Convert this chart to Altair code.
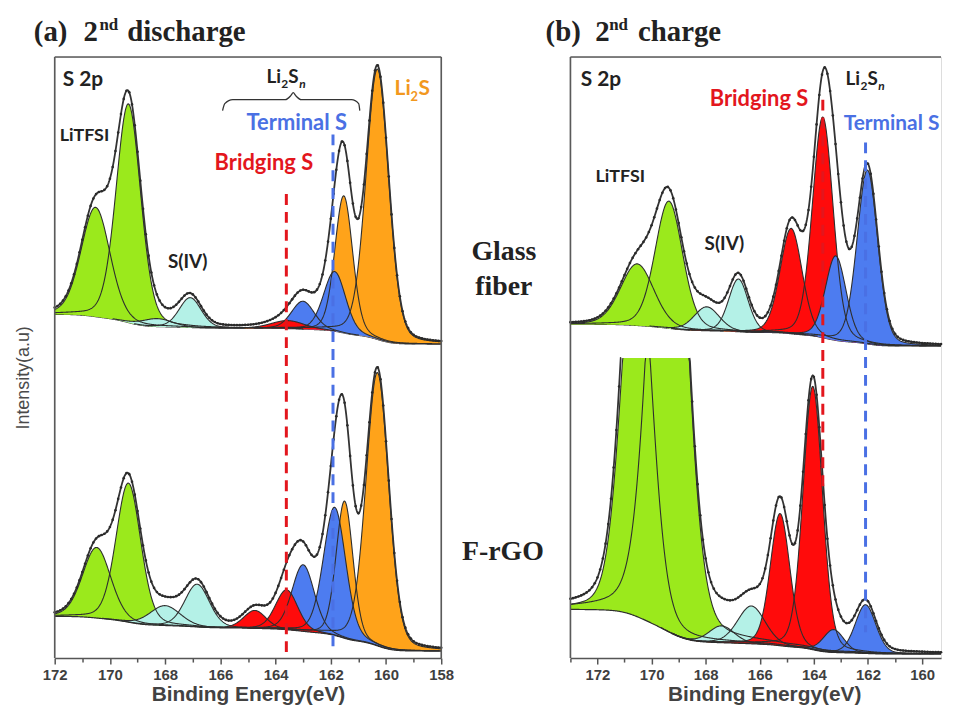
import numpy as np
import pandas as pd
import altair as alt

# ---------------- values ----------------
COL = {"LiTFSI": "#9BE91C", "S(IV)": "#B4F1E7", "Bridging": "#FF0B0B",
       "Terminal": "#4D7CF0", "Li2S": "#FFA31A"}
TXT_RED, TXT_BLUE, TXT_ORANGE = "#E3161D", "#4A70E4", "#F2981E"
OUTLINE = "#2E2E2E"
SANS, SERIF, AXFONT = "Lato", "Liberation Serif", "Liberation Sans"

# ---- (a) 2nd discharge : binding energy 172 -> 158 eV ----
A_DOMAIN = [172, 158]
A_TICKS = list(range(158, 173))
# Glass fiber (upper trace): peak centre (eV), height (a.u.), FWHM (eV)
A_GF_KIND = ["LiTFSI", "LiTFSI", "S(IV)", "S(IV)", "Li2S", "Li2S", "Terminal", "Terminal", "Bridging"]
A_GF_CENTER = [170.52, 169.33, 168.28, 167.09, 160.31, 161.53, 161.86, 163.01, 163.56]
A_GF_HEIGHT = [110, 220, 8, 30, 272, 138, 60, 28, 8]
A_GF_FWHM = [1.23, 1.05, 1.30, 0.94, 0.97, 0.76, 0.94, 0.97, 1.40]
A_GF_BG = [346, 316]          # background at 172 eV, at 158 eV
# F-rGO (lower trace)
A_FR_KIND = ["LiTFSI", "LiTFSI", "S(IV)", "S(IV)", "Li2S", "Li2S", "Terminal", "Terminal", "Bridging", "Bridging"]
A_FR_CENTER = [170.48, 169.33, 168.00, 166.84, 160.31, 161.50, 161.86, 163.00, 164.75, 163.60]
A_FR_HEIGHT = [71, 140, 20, 43, 275, 138, 129, 67, 18, 40]
A_FR_FWHM = [1.20, 1.05, 1.30, 1.05, 0.97, 0.72, 0.95, 0.95, 0.95, 0.95]
A_FR_BG = [42, 7]
A_DASH_KIND = ["Bridging", "Terminal"]
A_DASH_E = [163.61, 161.92]
A_DASH_TOP = [467, 527]
A_DASH_BOTTOM = [0, 7]
A_BRACE_E = [165.92, 165.84, 165.55, 163.65, 163.45, 163.36, 163.27, 163.07, 161.25, 160.99, 160.95]
A_BRACE_V = [551, 558, 562, 562, 566, 569, 566, 562, 562, 558, 551]

# ---- (b) 2nd charge : binding energy 173 -> ~159 eV (cut at the right edge) ----
B_DOMAIN = [173, 159.3]
B_TICKS = list(range(160, 174))
B_GF_KIND = ["LiTFSI", "LiTFSI", "S(IV)", "S(IV)", "Bridging", "Bridging", "Terminal", "Terminal"]
B_GF_CENTER = [170.53, 169.36, 167.96, 166.79, 164.84, 163.67, 163.19, 162.02]
B_GF_HEIGHT = [62, 128, 24, 53, 106, 222, 85, 175]
B_GF_FWHM = [1.45, 1.20, 1.10, 0.85, 0.96, 0.90, 0.90, 0.90]
B_GF_BG = [339, 317]
B_FR_KIND = ["LiTFSI", "LiTFSI", "S(IV)", "S(IV)", "Bridging", "Bridging", "Terminal", "Terminal"]
B_FR_CENTER = [170.55, 169.40, 167.41, 166.31, 165.25, 164.04, 163.27, 162.09]
B_FR_HEIGHT = [407, 625, 17, 38, 133, 265, 23, 49]
B_FR_FWHM = [1.28, 1.48, 1.10, 1.20, 0.85, 0.85, 0.90, 0.90]
B_FR_BG = [52, 7]
B_FR_CAP = 305               # lower trace is cut off at this intensity
B_DASH_KIND = ["Bridging", "Terminal"]
B_DASH_E = [163.67, 162.09]
B_DASH_TOP = [565, 522]
B_DASH_BOTTOM = [172, 29]

# in-plot labels: text, energy, intensity, size, colour
A_LAB_TEXT = ["S 2p", "LiTFSI", "S(IV)", "Terminal S", "Bridging S"]
A_LAB_E = [171.71, 171.82, 167.90, 165.05, 166.21]
A_LAB_V = [576, 520, 393, 531, 491]
A_LAB_SIZE = [21, 18, 19, 22, 22]
A_LAB_COL = ["#222222", "#222222", "#222222", TXT_BLUE, TXT_RED]
B_LAB_TEXT = ["S 2p", "LiTFSI", "S(IV)", "Bridging S", "Terminal S"]
B_LAB_E = [172.62, 172.07, 168.04, 167.85, 162.90]
B_LAB_V = [579, 482, 414, 559, 534]
B_LAB_SIZE = [21, 18, 19, 22, 21]
B_LAB_COL = ["#222222", "#222222", "#222222", TXT_RED, TXT_BLUE]


# ---------------- helpers ----------------
def peak(E, c, h, w, eta=0.2):
    u = (E - c) / w
    return h * ((1 - eta) * np.exp(-4 * np.log(2) * u * u) + eta / (1 + 4 * u * u))


def segments(E, y, keep):
    idx = np.flatnonzero(keep)
    seg = np.cumsum(np.r_[1, np.diff(idx) > 1])
    return pd.DataFrame({"E": E[idx], "y": y[idx], "seg": seg})


def clip_keep(y, keep, cap):
    if cap is None:
        return keep, y
    under = y <= cap
    near = under | np.r_[under[1:], False] | np.r_[False, under[:-1]]
    return keep & near, np.minimum(y, cap)


def x_axis(ticks, title_x):
    return alt.Axis(values=ticks, labelExpr="datum.value % 2 == 0 ? datum.label : ''",
                    tickSize={"condition": {"test": "datum.value % 2 == 0", "value": 6}, "value": 4},
                    labelFont=AXFONT, labelFontSize=15, labelFontWeight="bold", labelColor="#3f3f3f",
                    labelPadding=4, labelFlush=False, labelOverlap=False,
                    domainColor="#555555", domainWidth=1.6, tickColor="#555555", tickWidth=1.5,
                    grid=False, title="Binding Energy(eV)", titleFont=AXFONT, titleFontSize=21,
                    titleFontWeight="bold", titleColor="#424242", titlePadding=1, titleX=title_x)


def panel(xdom, ydom, ticks, width, height, title_x, traces, dash, labels, formulas, brace, pix):
    xs = alt.Scale(domain=xdom, nice=False, zero=False)
    ys = alt.Scale(domain=ydom, nice=False, zero=False)
    ax = x_axis(ticks, title_x)
    X = lambda: alt.X("E:Q", scale=xs, axis=ax)
    Y = lambda f: alt.Y(f, scale=ys, axis=None)
    E = np.round(np.arange(min(xdom), max(xdom) + 1e-9, 0.02), 3)
    fills, outlines, bases, envs, dots = [], [], [], [], []
    for tr in traces:
        comps = [peak(E, c, h, w) for c, h, w in zip(tr["center"], tr["height"], tr["fwhm"])]
        total = np.sum(comps, axis=0)
        frac = np.cumsum(total)
        frac = frac / frac[-1]
        base = tr["bg"][1] + (tr["bg"][0] - tr["bg"][1]) * frac
        cap = tr.get("cap")
        for comp, kind in zip(comps, tr["kind"]):
            m = comp > 0.3
            top = base + comp
            hi = np.minimum(top, cap) if cap is not None else top
            df = pd.DataFrame({"E": E[m], "hi": hi[m], "lo": base[m]})
            fills.append(alt.Chart(df).mark_area(color=COL[kind], opacity=1).encode(
                x=X(), y=Y("hi:Q"), y2="lo:Q"))
            k, yy = clip_keep(top, m, cap)
            outlines.append(alt.Chart(segments(E, yy, k)).mark_line(
                color=OUTLINE, strokeWidth=1.1).encode(x=X(), y=Y("y:Q"), detail="seg:N"))
        bases.append(alt.Chart(pd.DataFrame({"E": E, "y": base})).mark_line(
            color=OUTLINE, strokeWidth=1.2).encode(x=X(), y=Y("y:Q")))
        env = base + total
        k, yy = clip_keep(env, np.ones_like(env, dtype=bool), cap)
        envs.append(alt.Chart(segments(E, yy, k)).mark_line(
            color="#333333", strokeWidth=1.8).encode(x=X(), y=Y("y:Q"), detail="seg:N"))
        sel = np.zeros_like(env, dtype=bool)
        sel[::5] = True
        if cap is not None:
            sel &= env <= cap
        dots.append(alt.Chart(pd.DataFrame({"E": E[sel], "y": env[sel]})).mark_circle(
            color="#2a2a2a", size=7, opacity=1).encode(x=X(), y=Y("y:Q")))

    dash_layers = []
    for kind, e, v1, v2 in zip(*dash):
        dcol = TXT_RED if kind == "Bridging" else TXT_BLUE
        dash_layers.append(alt.Chart(pd.DataFrame({"E": [e], "v1": [v1], "v2": [v2]})).mark_rule(
            color=dcol, strokeWidth=3, strokeDash=[11, 7]).encode(x=X(), y=Y("v1:Q"), y2="v2:Q"))

    ldf = pd.DataFrame({"E": labels[1], "v": labels[2], "t": labels[0],
                        "s": labels[3], "c": labels[4]})
    lab = alt.Chart(ldf).mark_text(align="left", baseline="alphabetic", font=SANS,
                                   fontWeight="bold").encode(
        x=X(), y=Y("v:Q"), text="t:N",
        size=alt.Size("s:Q", scale=None), color=alt.Color("c:N", scale=None))

    ftxt = []
    for (e, v, color, parts) in formulas:
        for (s, size, dx, dy, style) in parts:
            ftxt.append(alt.Chart(pd.DataFrame({"E": [e], "v": [v], "t": [s]})).mark_text(
                align="left", baseline="alphabetic", font=SANS, fontWeight="bold",
                fontStyle=style, fontSize=size, color=color, dx=dx, dy=dy).encode(
                x=X(), y=Y("v:Q"), text="t:N"))

    extra = []
    if brace is not None:
        extra.append(alt.Chart(pd.DataFrame({"E": brace[0], "v": brace[1]})).mark_line(
            color="#333333", strokeWidth=1.3, interpolate="monotone").encode(x=X(), y=Y("v:Q")))

    ptxt = []
    for (px, py, s, font, size, weight, color, angle, align, base_) in pix:
        ptxt.append(alt.Chart(pd.DataFrame({"t": [s]})).mark_text(
            font=font, fontSize=size, fontWeight=weight, color=color, angle=angle,
            align=align, baseline=base_).encode(
            x=alt.value(px), y=alt.value(py), text="t:N"))

    frame = [
        alt.Chart(pd.DataFrame({"k": [0]})).mark_rule(color="#5a5a5a", strokeWidth=1.6).encode(
            x=alt.value(0), x2=alt.value(width), y=alt.value(0)),
        alt.Chart(pd.DataFrame({"k": [0]})).mark_rule(color="#5a5a5a", strokeWidth=1.6).encode(
            x=alt.value(0), y=alt.value(0), y2=alt.value(height)),
    ]
    return bases[:1], fills, bases[1:], outlines, envs, dots, dash_layers, [lab], ftxt, extra, ptxt, frame


# ---------------- panel (a) ----------------
WA, HA = 389, 605
LI2SN = lambda e, v: (e, v, "#222222", [("Li", 19, 0, 0, "normal"), ("2", 12, 15, 5, "normal"),
                                        ("S", 19, 22, 0, "normal"), ("n", 12, 33, 5, "italic")])
a_formulas = [LI2SN(164.33, 579),
              (159.69, 567, TXT_ORANGE, [("Li", 21, 0, 0, "normal"), ("2", 13, 16, 6, "normal"),
                                         ("S", 21, 24, 0, "normal")])]
a_pix = [
    (-21, -16, "(a)", SERIF, 29, "bold", "#222222", 0, "left", "alphabetic"),
    (29, -16, "2", SERIF, 29, "bold", "#222222", 0, "left", "alphabetic"),
    (45, -27, "nd", SERIF, 17, "bold", "#222222", 0, "left", "alphabetic"),
    (73, -16, "discharge", SERIF, 29, "bold", "#222222", 0, "left", "alphabetic"),
    (452, 204, "Glass", SERIF, 28, "bold", "#222222", 0, "center", "alphabetic"),
    (452, 240, "fiber", SERIF, 28, "bold", "#222222", 0, "center", "alphabetic"),
    (451, 506, "F-rGO", SERIF, 28, "bold", "#222222", 0, "center", "alphabetic"),
    (-31, 323, "Intensity(a.u)", AXFONT, 18, "normal", "#4a4a4a", 270, "center", "middle"),
]
a_traces = [
    dict(center=A_GF_CENTER, height=A_GF_HEIGHT, fwhm=A_GF_FWHM, kind=A_GF_KIND, bg=A_GF_BG),
    dict(center=A_FR_CENTER, height=A_FR_HEIGHT, fwhm=A_FR_FWHM, kind=A_FR_KIND, bg=A_FR_BG),
]
pa = panel(A_DOMAIN, [0, HA], A_TICKS, WA, HA, WA / 2, a_traces,
           (A_DASH_KIND, A_DASH_E, A_DASH_TOP, A_DASH_BOTTOM),
           (A_LAB_TEXT, A_LAB_E, A_LAB_V, A_LAB_SIZE, A_LAB_COL), a_formulas,
           (A_BRACE_E, A_BRACE_V), a_pix)
right_edge = alt.Chart(pd.DataFrame({"k": [0]})).mark_rule(color="#5a5a5a", strokeWidth=1.6).encode(
    x=alt.value(WA), y=alt.value(0), y2=alt.value(HA))
# white anchor fixing the top-left corner of the whole figure (page origin)
anchor = alt.Chart(pd.DataFrame({"k": [0]})).mark_rule(color="white", strokeWidth=1).encode(
    x=alt.value(-45.5), x2=alt.value(-44), y=alt.value(-45.5))
layers_a = [l for group in pa for l in group] + [right_edge, anchor]
chart_a = alt.layer(*layers_a).properties(width=WA, height=HA)

# ---------------- panel (b) ----------------
WB, HB = 373, 605
b_formulas = [LI2SN(162.83, 580)]
b_pix = [
    (-25, -16, "(b)", SERIF, 29, "bold", "#222222", 0, "left", "alphabetic"),
    (25, -16, "2", SERIF, 29, "bold", "#222222", 0, "left", "alphabetic"),
    (39, -27, "nd", SERIF, 17, "bold", "#222222", 0, "left", "alphabetic"),
    (68, -16, "charge", SERIF, 29, "bold", "#222222", 0, "left", "alphabetic"),
]
b_traces = [
    dict(center=B_GF_CENTER, height=B_GF_HEIGHT, fwhm=B_GF_FWHM, kind=B_GF_KIND, bg=B_GF_BG),
    dict(center=B_FR_CENTER, height=B_FR_HEIGHT, fwhm=B_FR_FWHM, kind=B_FR_KIND, bg=B_FR_BG, cap=B_FR_CAP),
]
pb = panel(B_DOMAIN, [3, 608], B_TICKS, WB, HB, 195, b_traces,
           (B_DASH_KIND, B_DASH_E, B_DASH_TOP, B_DASH_BOTTOM),
           (B_LAB_TEXT, B_LAB_E, B_LAB_V, B_LAB_SIZE, B_LAB_COL), b_formulas, None, b_pix)
layers_b = [l for group in pb for l in group]
chart_b = alt.layer(*layers_b).properties(width=WB, height=HB)

chart = alt.hconcat(chart_a, chart_b, spacing=130, bounds="flush").properties(
    padding={"left": 0, "top": 0, "right": 0, "bottom": 0}
).configure_view(strokeWidth=0).configure(background="white")

chart.save("out.html", embed_options={"renderer": "svg", "actions": False})
